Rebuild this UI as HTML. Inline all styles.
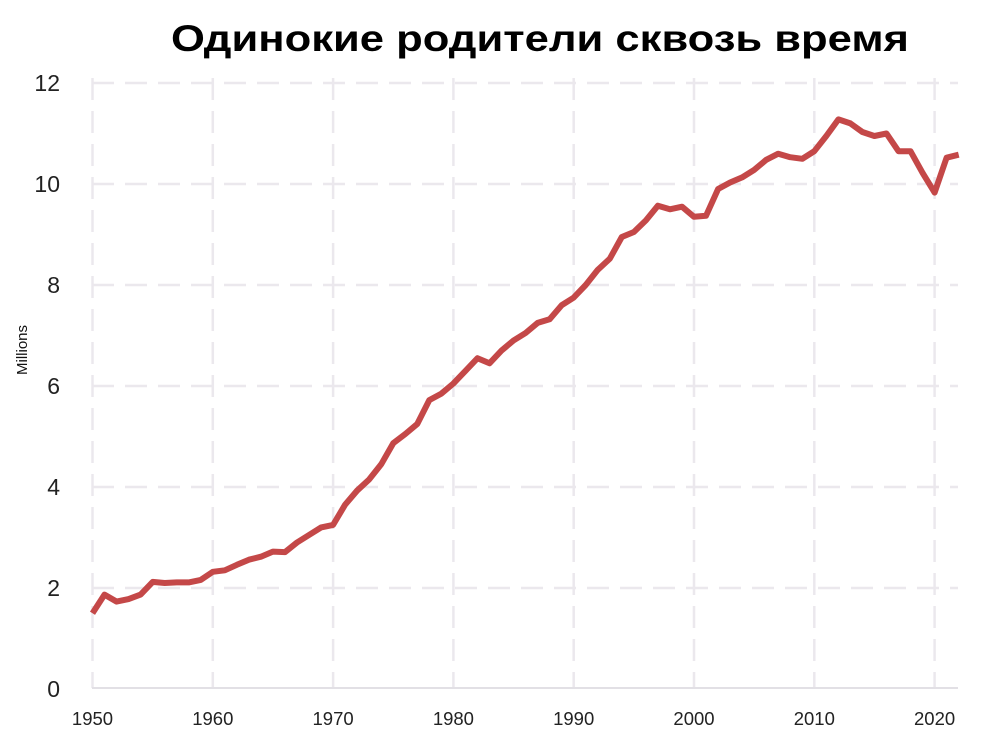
<!DOCTYPE html>
<html><head><meta charset="utf-8"><style>
body{margin:0;background:#fff;}
svg{display:block;font-family:"Liberation Sans","DejaVu Sans",sans-serif;}
</style></head><body>
<svg id="s" width="997" height="736" viewBox="0 0 997 736">
<rect width="997" height="736" fill="#fff"/>
<text x="540" y="51" text-anchor="middle" font-size="37" font-weight="bold" textLength="738" lengthAdjust="spacingAndGlyphs" fill="#000">Одинокие родители сквозь время</text>
<g id="grid" stroke="#ebe8ed" stroke-width="2.5" stroke-dasharray="22,11"></g>
<line x1="92" y1="688" x2="958" y2="688" stroke="#e2e0e5" stroke-width="2"/>
<g id="lab" fill="#222"></g>
<text transform="translate(27,350) rotate(-90)" text-anchor="middle" font-size="15" fill="#111">Millions</text>
<polyline id="ln" fill="none" stroke="#c44848" stroke-width="6" stroke-linejoin="round" stroke-linecap="butt"/>
</svg>
<script>
var ns="http://www.w3.org/2000/svg";
function X(y){return 92.5+(y-1950)*12.03;}
function Y(v){return 689-v*50.5;}
var g=document.getElementById("grid"),lab=document.getElementById("lab");
function el(p,t,a){var e=document.createElementNS(ns,t);for(var k in a)e.setAttribute(k,a[k]);p.appendChild(e);return e;}
for(var v=2;v<=12;v+=2){el(g,"line",{x1:92,x2:958,y1:Y(v),y2:Y(v)});}
for(var y=1950;y<=2020;y+=10){el(g,"line",{x1:X(y),x2:X(y),y1:78,y2:688});}
for(var v=0;v<=12;v+=2){var t=el(lab,"text",{x:60,y:Y(v)+8,"text-anchor":"end","font-size":23});t.textContent=v;}
for(var y=1950;y<=2020;y+=10){var t=el(lab,"text",{x:X(y),y:725,"text-anchor":"middle","font-size":18.5});t.textContent=y;}
var d=[1.5,1.87,1.73,1.78,1.87,2.12,2.1,2.11,2.11,2.16,2.32,2.35,2.46,2.56,2.62,2.72,2.71,2.9,3.05,3.2,3.25,3.65,3.93,4.15,4.45,4.87,5.05,5.25,5.72,5.85,6.05,6.3,6.55,6.45,6.7,6.9,7.05,7.25,7.32,7.6,7.75,8.0,8.3,8.52,8.95,9.05,9.28,9.57,9.5,9.55,9.35,9.37,9.9,10.03,10.13,10.28,10.48,10.6,10.53,10.5,10.65,10.95,11.28,11.2,11.03,10.95,11.0,10.65,10.65,10.22,9.83,10.52,10.58];
var pts=d.map(function(v,i){return X(1950+i).toFixed(1)+","+Y(v).toFixed(1);}).join(" ");
document.getElementById("ln").setAttribute("points",pts);
</script>
</body></html>
